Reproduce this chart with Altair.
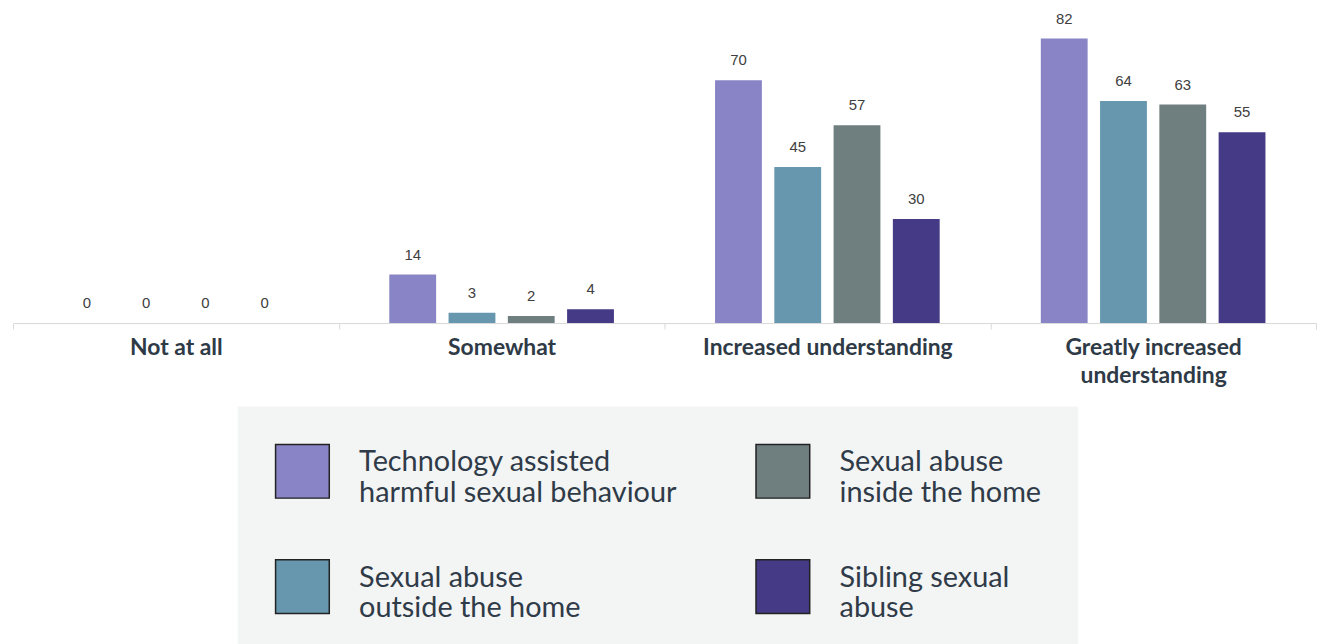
import altair as alt
import pandas as pd

categories = ["Not at all", "Somewhat", "Increased understanding", "Greatly increased understanding"]
series = [
    "Technology assisted harmful sexual behaviour",
    "Sexual abuse outside the home",
    "Sexual abuse inside the home",
    "Sibling sexual abuse",
]
tech = [0, 14, 70, 82]
outside = [0, 3, 45, 64]
inside = [0, 2, 57, 63]
sibling = [0, 4, 30, 55]

colors = ["#8984c6", "#6697ae", "#6f7f80", "#443a86"]

rows = []
for s, vals in zip(series, [tech, outside, inside, sibling]):
    for c, v in zip(categories, vals):
        rows.append({"cat": c, "series": s, "value": v})
df = pd.DataFrame(rows)

legend_label_expr = (
    "datum.label == 'Technology assisted harmful sexual behaviour' ? ['Technology assisted', 'harmful sexual behaviour'] : "
    "datum.label == 'Sexual abuse outside the home' ? ['Sexual abuse', 'outside the home'] : "
    "datum.label == 'Sexual abuse inside the home' ? ['Sexual abuse', 'inside the home'] : "
    "['Sibling sexual', 'abuse']"
)

x_enc = alt.X(
    "cat:N",
    sort=categories,
    scale=alt.Scale(paddingInner=0, paddingOuter=0),
    axis=alt.Axis(
        title=None,
        labelAngle=0,
        domainColor="#d9d9d9",
        tickColor="#d9d9d9",
        tickBand="extent",
        tickSize=6,
        labelPadding=8,
        labelFont="Lato",
        labelFontWeight="bold",
        labelFontSize=23,
        labelColor="#2e3a46",
        labelLimit=400,
        labelLineHeight=28,
        labelExpr="datum.label == 'Greatly increased understanding' ? ['Greatly increased', 'understanding'] : datum.label",
    ),
)
xoff_enc = alt.XOffset(
    "series:N",
    sort=series,
    scale=alt.Scale(paddingInner=0.21, paddingOuter=0.853),
)
y_enc = alt.Y("value:Q", scale=alt.Scale(domain=[0, 90.3], nice=False), axis=None)

bars = alt.Chart(df).mark_bar().encode(
    x=x_enc,
    xOffset=xoff_enc,
    y=y_enc,
    color=alt.Color(
        "series:N",
        scale=alt.Scale(domain=series, range=colors),
        legend=alt.Legend(
            title=None,
            orient="none",
            legendX=226,
            legendY=399,
            columns=2,
            fillColor="#f3f4f4",
            padding=37,
            symbolType="square",
            symbolSize=2916,
            symbolStrokeColor="#222222",
            symbolStrokeWidth=1.5,
            symbolOpacity=1,
            labelFont="Lato",
            labelFontSize=29,
            labelColor="#2f3b48",
            labelOffset=29,
            labelLimit=600,
            labelBaseline="alphabetic",
            columnPadding=76,
            rowPadding=49,
            labelExpr=legend_label_expr,
        ),
    ),
)

labels = alt.Chart(df).mark_text(
    baseline="bottom", dy=-12, fontSize=15, font="Liberation Sans", color="#404040"
).encode(
    x=alt.X("cat:N", sort=categories),
    xOffset=alt.XOffset("series:N", sort=series),
    y=alt.Y("value:Q", scale=alt.Scale(domain=[0, 90.3], nice=False)),
    text=alt.Text("value:Q"),
)

chart = (
    alt.layer(bars, labels)
    .properties(
        width=1310,
        height=315,
        padding={"left": 4, "top": 0, "right": 0, "bottom": 0},
        background="white",
    )
    .configure_view(stroke=None)
)

chart.save("out.html", embed_options={"renderer": "svg", "actions": False})
